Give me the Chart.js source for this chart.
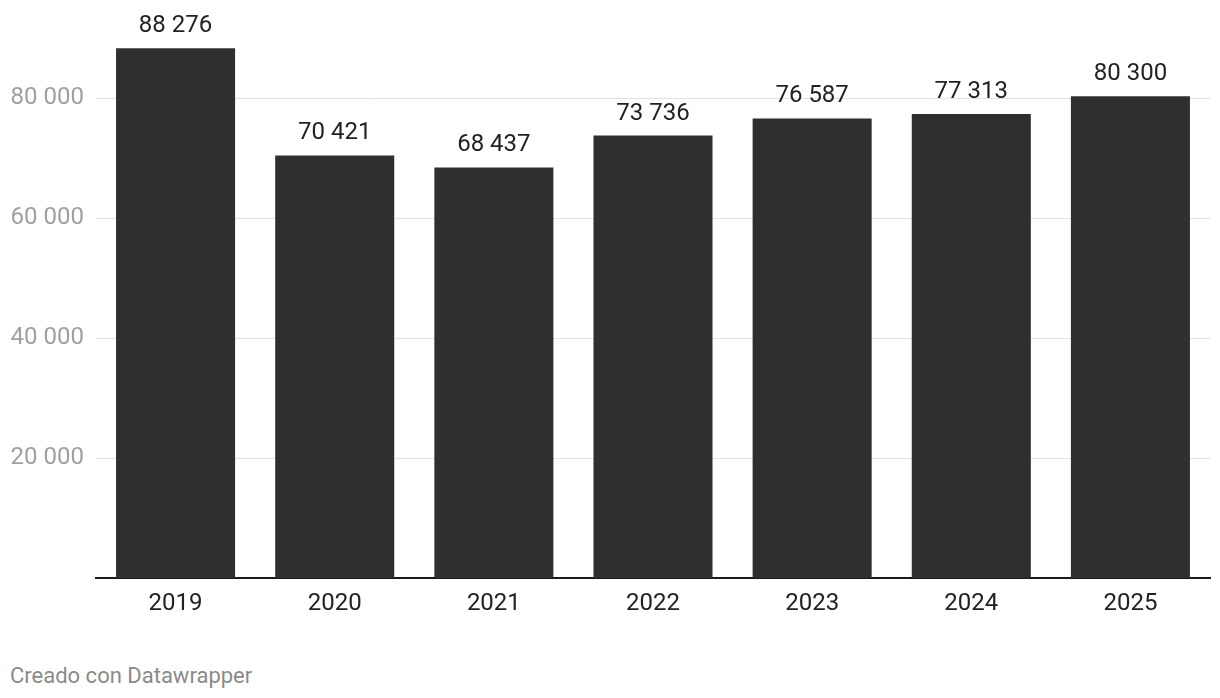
<!DOCTYPE html>
<html>
<head>
<meta charset="utf-8">
<script src="https://cdn.jsdelivr.net/npm/chart.js@4/dist/chart.umd.min.js"></script>
<style>
  body { margin: 0; background: #fff; font-family: Roboto, sans-serif; }
  #wrap { position: relative; width: 1220px; height: 640px; }
  #footer { position: absolute; left: 10px; top: 663px; font-size: 22px; color: #8a8a8a; }
</style>
</head>
<body>
<div id="wrap"><canvas id="chart"></canvas></div>
<div id="footer">Creado con Datawrapper</div>
<script>
const years = ['2019', '2020', '2021', '2022', '2023', '2024', '2025'];
const values = [88276, 70421, 68437, 73736, 76587, 77313, 80300];
const yTicks = [20000, 40000, 60000, 80000];

function fmt(n) {
  return String(n).replace(/\B(?=(\d{3})+(?!\d))/g, ' ');
}

// value labels above each bar
const valueLabels = {
  id: 'valueLabels',
  afterDatasetsDraw(chart) {
    const ctx = chart.ctx;
    const meta = chart.getDatasetMeta(0);
    ctx.save();
    ctx.font = '24px Roboto';
    ctx.fillStyle = '#222';
    ctx.textAlign = 'center';
    ctx.textBaseline = 'middle';
    meta.data.forEach((bar, i) => {
      ctx.fillText(fmt(values[i]), bar.x, bar.y - 22);
    });
    ctx.restore();
  }
};

new Chart(document.getElementById('chart'), {
  type: 'bar',
  data: {
    labels: years,
    datasets: [{
      data: values,
      backgroundColor: '#2f2f2f',
      categoryPercentage: 1,
      barPercentage: 0.748
    }]
  },
  options: {
    responsive: true,
    maintainAspectRatio: false,
    animation: false,
    layout: { padding: { top: 38, right: 10, left: 0, bottom: 0 } },
    plugins: { legend: { display: false }, tooltip: { enabled: false } },
    scales: {
      x: {
        grid: { display: false, drawTicks: false },
        border: { display: true, color: '#1a1a1a', width: 2 },
        ticks: { color: '#222', font: { family: 'Roboto', size: 24 }, padding: 12 },
        afterFit(s) { s.height = 62; }
      },
      y: {
        min: 0,
        max: 90000,
        afterBuildTicks(s) { s.ticks = yTicks.map(v => ({ value: v })); },
        grid: { color: '#e2e2e2', lineWidth: 1, drawTicks: false },
        border: { display: false },
        ticks: {
          color: '#a0a0a0',
          font: { family: 'Roboto', size: 24 },
          padding: 12,
          callback: v => fmt(v)
        },
        afterFit(s) { s.width = 96; }
      }
    }
  },
  plugins: [valueLabels]
});
</script>
</body>
</html>
